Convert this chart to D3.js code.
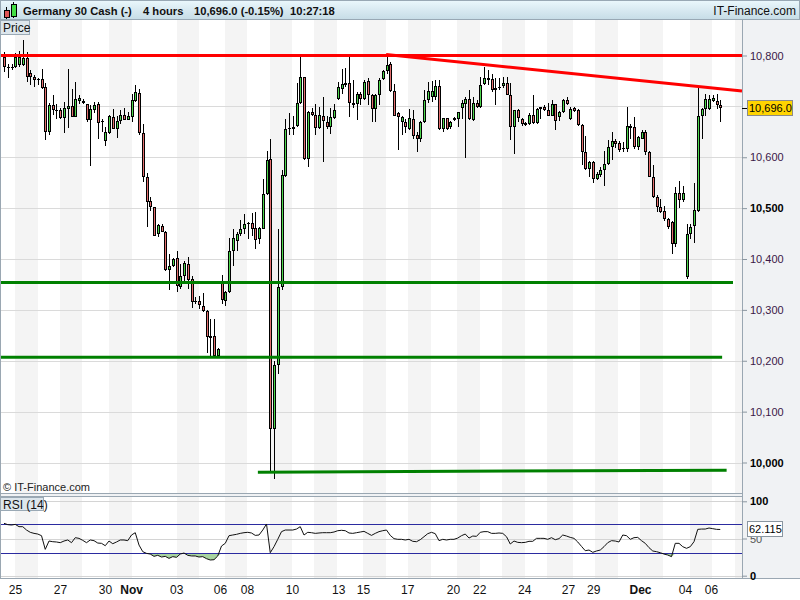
<!DOCTYPE html>
<html>
<head>
<meta charset="utf-8">
<script src="https://cdn.jsdelivr.net/npm/d3@7"></script>
<style>
body { margin: 0; background: #fff; }
svg { display: block; font-family: Arial, "Liberation Sans", sans-serif; }
</style>
</head>
<body>
<div id="chart"></div>
<script>
// 4 hour candles, index 0 = first bar on the left
const opens = [10797,10778,10775,10778,10781,10781,10796,10766,10758,10753,
  10753,10738,10650,10703,10693,10692,10677,10694,10701,10680,
  10711,10711,10705,10674,10692,10705,10671,10632,10648,10679,
  10655,10671,10684,10674,10679,10711,10727,10648,10561,10514,
  10502,10449,10464,10454,10379,10386,10401,10344,10367,10391,
  10361,10318,10318,10308,10298,10248,10248,10209,10354,10318,
  10336,10415,10436,10449,10458,10469,10470,10460,10439,10459,
  10528,10596,10065,10191,10344,10564,10655,10655,10661,10707,
  10758,10596,10689,10684,10657,10682,10669,10659,10678,10715,
  10735,10745,10745,10707,10705,10725,10714,10750,10723,10694,
  10722,10753,10769,10784,10731,10686,10669,10669,10656,10676,
  10643,10636,10669,10712,10719,10719,10740,10656,10677,10659,
  10674,10676,10697,10705,10715,10674,10707,10699,10744,10755,
  10753,10732,10736,10741,10745,10723,10659,10692,10676,10668,
  10666,10684,10667,10694,10699,10692,10682,10705,10679,10688,
  10713,10676,10697,10692,10664,10611,10576,10590,10558,10565,
  10574,10586,10620,10632,10628,10618,10617,10661,10659,10621,
  10636,10650,10611,10562,10521,10502,10494,10479,10473,10429,
  10530,10515,10364,10449,10465,10495,10681,10694,10695,10710,
  10710,10703];
const highs = [10807,10784,10784,10805,10808,10830,10807,10771,10761,10756,
  10773,10745,10707,10723,10705,10696,10709,10774,10735,10748,
  10723,10715,10705,10702,10709,10709,10676,10659,10684,10694,
  10682,10692,10697,10689,10725,10742,10735,10666,10569,10522,
  10502,10469,10469,10456,10410,10402,10416,10390,10397,10403,
  10367,10326,10328,10333,10300,10282,10282,10226,10368,10338,
  10441,10459,10453,10476,10489,10472,10490,10492,10462,10557,
  10613,10636,10200,10459,10574,10676,10686,10682,10745,10801,
  10758,10690,10696,10705,10699,10718,10681,10696,10705,10747,
  10774,10776,10797,10751,10728,10728,10751,10755,10725,10725,
  10755,10771,10797,10788,10743,10689,10682,10676,10694,10692,
  10650,10671,10732,10748,10749,10751,10751,10677,10678,10672,
  10679,10689,10712,10718,10732,10718,10712,10758,10778,10771,
  10764,10755,10755,10758,10758,10745,10692,10694,10677,10669,
  10686,10723,10697,10699,10702,10707,10712,10705,10690,10714,
  10718,10699,10699,10695,10666,10642,10592,10592,10571,10581,
  10613,10633,10650,10636,10631,10630,10699,10666,10679,10642,
  10653,10653,10613,10585,10525,10517,10505,10480,10475,10541,
  10554,10544,10469,10469,10550,10738,10697,10725,10722,10722,
  10725,10713];
const lows = [10768,10755,10771,10776,10778,10779,10748,10742,10738,10742,
  10735,10633,10643,10684,10676,10676,10648,10657,10679,10679,
  10705,10705,10669,10582,10686,10636,10650,10623,10646,10655,
  10638,10666,10673,10673,10669,10709,10643,10551,10462,10495,
  10445,10443,10453,10377,10340,10384,10336,10342,10351,10341,
  10303,10311,10301,10295,10216,10210,10205,10206,10311,10308,
  10334,10387,10416,10446,10449,10439,10446,10420,10430,10458,
  10525,9983,9967,10173,10340,10561,10643,10643,10659,10705,
  10594,10580,10682,10643,10656,10590,10656,10646,10676,10712,
  10725,10738,10680,10697,10673,10703,10712,10703,10669,10669,
  10702,10751,10764,10728,10681,10615,10643,10648,10653,10636,
  10610,10630,10668,10707,10709,10712,10653,10650,10653,10656,
  10672,10659,10676,10599,10673,10672,10696,10696,10742,10742,
  10728,10703,10732,10736,10722,10633,10607,10669,10661,10661,
  10664,10666,10666,10676,10690,10681,10681,10653,10671,10686,
  10703,10674,10688,10661,10584,10574,10561,10550,10556,10561,
  10544,10585,10594,10618,10610,10611,10610,10636,10617,10615,
  10635,10604,10561,10519,10492,10490,10475,10459,10410,10423,
  10500,10512,10360,10439,10431,10492,10636,10681,10692,10709,
  10695,10669];
const closes = [10778,10775,10778,10797,10797,10796,10757,10758,10751,10751,
  10737,10650,10703,10692,10692,10678,10696,10701,10680,10715,
  10716,10707,10674,10694,10703,10667,10671,10650,10681,10655,
  10671,10684,10674,10681,10713,10728,10648,10561,10513,10502,
  10446,10466,10454,10379,10386,10400,10346,10367,10393,10359,
  10315,10315,10309,10298,10247,10245,10209,10224,10320,10336,
  10415,10441,10449,10459,10469,10470,10459,10438,10460,10528,
  10595,10065,10191,10344,10565,10656,10657,10659,10707,10758,
  10596,10688,10684,10657,10684,10671,10659,10679,10692,10738,
  10743,10742,10707,10702,10725,10714,10748,10722,10694,10723,
  10751,10769,10782,10730,10682,10679,10679,10659,10677,10642,
  10636,10669,10712,10730,10730,10740,10655,10677,10656,10669,
  10678,10688,10707,10715,10676,10707,10699,10742,10755,10751,
  10732,10736,10738,10746,10723,10659,10692,10677,10666,10663,
  10684,10667,10695,10699,10692,10682,10705,10671,10689,10712,
  10705,10695,10690,10663,10611,10576,10590,10558,10567,10575,
  10587,10621,10632,10627,10615,10617,10661,10657,10621,10640,
  10650,10611,10562,10521,10502,10492,10479,10462,10429,10530,
  10515,10530,10449,10462,10496,10681,10695,10714,10715,10717,
  10702,10696];
const rsi = [70.4,68.6,68.1,69.0,65.9,65.9,61.4,58.3,56.9,56.0,
  53.8,35.4,46.6,45.7,45.3,44.4,46.6,48.0,44.4,51.1,
  50.2,47.5,44.4,48.0,47.1,43.9,43.5,40.3,46.6,43.0,
  45.3,48.0,48.0,47.1,54.7,57.8,41.2,32.3,30.0,29.1,
  26.0,27.4,25.1,26.0,23.3,25.6,24.7,29.1,30.5,27.4,
  26.5,26.5,25.1,25.6,22.9,21.1,21.5,26.5,39.9,43.5,
  53.8,54.7,55.6,56.9,57.8,58.3,57.4,54.2,54.7,61.4,
  69.5,30.9,39.0,48.9,59.2,61.4,61.4,61.4,62.7,65.9,
  54.7,58.3,57.8,56.9,57.4,57.8,57.8,57.8,58.7,60.5,
  61.0,60.5,57.4,56.9,57.8,58.7,59.6,56.9,54.2,56.9,
  59.2,60.5,61.4,54.2,49.8,48.9,48.9,48.0,48.9,46.2,
  45.7,48.4,52.4,56.5,58.3,56.5,47.1,48.9,48.0,48.9,
  48.9,50.6,53.8,56.0,50.6,53.3,52.9,58.3,59.2,59.2,
  56.9,56.9,57.4,56.9,52.4,42.6,46.6,44.8,44.4,44.8,
  46.2,46.2,50.2,50.2,50.2,48.9,51.1,48.4,49.8,54.7,
  53.3,51.5,50.2,45.3,39.4,33.6,34.5,31.4,33.2,34.5,
  39.0,44.4,47.1,46.6,45.3,54.7,53.8,48.9,51.1,51.5,
  47.1,43.5,37.7,33.2,32.3,30.9,29.1,27.8,25.6,43.5,
  43.5,39.0,36.8,39.0,45.7,62.3,62.7,62.7,64.1,63.2,
  62.3,62.115];

const priceGrid = [10000,10100,10200,10300,10400,10500,10600,10700,10800];
// 10,700 has no label: the last-price tag sits there
const priceLabels = [10000,10100,10200,10300,10400,10500,10600,10800];
const boldPriceTicks = [10000,10500];
const rsiTicks = [0,50,100];
const dayLabels = ["25","27","30","Nov","03","06","08","10","13","15","17","20","22","24","27","29","Dec","04","06"];
const dayTickIdx = [2.9,14.9,26.9,33.9,45.9,57.6,64.8,76.8,89.1,95.7,107.5,119.7,126.7,138.7,150.4,157.1,169.6,181.6,188.5];
const shadedDays = [[2.9,9],[14.9,20.9],[28.1,34.1],[46,52],[58.9,64.9],[70.9,76.9],[82.7,88.7],[95.8,101.8],
  [107.8,113.9],[120.9,126.8],[132.9,138.8],[144.9,151.7],[157.6,163.7],[169.6,175.7],[182.8,188.7],[194.8,198]];
// drawn trend lines: [index, price] pairs
const redLines = [[[-1.1,10800],[196.8,10800]], [[101.9,10802],[196.8,10730]]];
const greenLines = [[[-1.1,10354],[194.4,10354]], [[-1.1,10207],[191.5,10207]], [[67.7,9981],[192.7,9985]]];
const lastPrice = 10696.0;
const lastRsi = 62.115;

const W = 800, H = 600;
const plotR = 742;
const pTop = 20, pBot = 493, rTop = 496, rBot = 578;

const svg = d3.select("#chart").append("svg")
    .attr("width", W)
    .attr("height", H);

const x = d3.scaleLinear().domain([0, 191]).range([4, 720.25]);
const y = d3.scaleLinear().domain([10000, 10800]).range([462.5, 55.5]);
const yR = d3.scaleLinear().domain([0, 100]).range([575.7, 501.3]);

// backgrounds
svg.append("rect").attr("width", W).attr("height", H).attr("fill", "#fff");
svg.append("rect").attr("x", plotR).attr("y", pTop).attr("width", W - plotR).attr("height", rBot - pTop).attr("fill", "#f0f2f4");
svg.append("rect").attr("x", 0).attr("y", pBot).attr("width", plotR).attr("height", rTop - pBot).attr("fill", "#f0f2f4");

// day shading in both panels
const bands = svg.append("g").attr("shape-rendering", "crispEdges");
[[pTop, pBot], [rTop, rBot]].forEach(([t, b]) => {
    bands.selectAll(null)
        .data(shadedDays)
        .join("rect")
        .attr("x", d => Math.round(x(d[0])))
        .attr("y", t)
        .attr("width", d => Math.round(Math.min(x(d[1]), plotR)) - Math.round(x(d[0])))
        .attr("height", b - t)
        .attr("fill", "#f4f4f4");
});

// price grid
svg.append("g").attr("shape-rendering", "crispEdges")
    .selectAll("line")
    .data(priceGrid)
    .join("line")
    .attr("x1", 0).attr("x2", plotR)
    .attr("y1", d => Math.round(y(d)) + 0.5)
    .attr("y2", d => Math.round(y(d)) + 0.5)
    .attr("stroke", "#dadada");

// candles
const candles = closes.map((c, i) => ({ i, o: opens[i], h: highs[i], l: lows[i], c }));
const cg = svg.append("g").attr("shape-rendering", "crispEdges");
cg.selectAll("line")
    .data(candles)
    .join("line")
    .attr("x1", d => Math.round(x(d.i)) + 0.5)
    .attr("x2", d => Math.round(x(d.i)) + 0.5)
    .attr("y1", d => Math.round(y(d.h)))
    .attr("y2", d => Math.round(y(d.l)))
    .attr("stroke", "#000");
cg.selectAll("rect.body")
    .data(candles)
    .join("rect")
    .attr("class", "body")
    .attr("x", d => Math.round(x(d.i)) - 1)
    .attr("y", d => Math.round(y(Math.max(d.o, d.c))))
    .attr("width", 3)
    .attr("height", d => Math.max(1, Math.round(y(Math.min(d.o, d.c))) - Math.round(y(Math.max(d.o, d.c)))))
    .attr("fill", "#000");
cg.selectAll("rect.fill")
    .data(candles.filter(d => Math.round(y(Math.min(d.o, d.c))) - Math.round(y(Math.max(d.o, d.c))) > 2))
    .join("rect")
    .attr("class", "fill")
    .attr("x", d => Math.round(x(d.i)))
    .attr("y", d => Math.round(y(Math.max(d.o, d.c))) + 1)
    .attr("width", 1)
    .attr("height", d => Math.round(y(Math.min(d.o, d.c))) - Math.round(y(Math.max(d.o, d.c))) - 2)
    .attr("fill", d => d.c >= d.o ? "#4cd64c" : "#e46f6f");

// trend lines
const tl = d3.line().x(d => x(d[0])).y(d => y(d[1]));
svg.append("g").selectAll("path")
    .data(redLines)
    .join("path")
    .attr("d", tl)
    .attr("stroke", "#ff0000")
    .attr("stroke-width", 3)
    .attr("fill", "none");
svg.append("g").selectAll("path")
    .data(greenLines)
    .join("path")
    .attr("d", tl)
    .attr("stroke", "#008000")
    .attr("stroke-width", 3)
    .attr("fill", "none");

// RSI panel
const rg = svg.append("g");
rg.append("g").attr("shape-rendering", "crispEdges")
    .selectAll("line")
    .data(rsiTicks)
    .join("line")
    .attr("x1", 0).attr("x2", plotR)
    .attr("y1", d => Math.round(yR(d)) + 0.5)
    .attr("y2", d => Math.round(yR(d)) + 0.5)
    .attr("stroke", "#d4d4d4");
const idx = rsi.map((v, i) => i);
rg.append("path")
    .datum(idx)
    .attr("d", d3.area().x(i => x(i)).y0(yR(30)).y1(i => yR(Math.min(rsi[i], 30))))
    .attr("fill", "#a8d4a0");
rg.append("path")
    .datum(idx)
    .attr("d", d3.area().x(i => x(i)).y0(yR(70)).y1(i => yR(Math.max(rsi[i], 70))))
    .attr("fill", "#f0b0b0");
rg.append("g").attr("shape-rendering", "crispEdges")
    .selectAll("line")
    .data([30, 70])
    .join("line")
    .attr("x1", 0).attr("x2", plotR)
    .attr("y1", d => Math.round(yR(d)) + 0.5)
    .attr("y2", d => Math.round(yR(d)) + 0.5)
    .attr("stroke", "#2b2ba0");
rg.append("path")
    .datum(idx)
    .attr("d", d3.line().x(i => x(i)).y(i => yR(rsi[i])))
    .attr("fill", "none")
    .attr("stroke", "#111")
    .attr("stroke-width", 1);

// panel borders
const borders = svg.append("g").attr("shape-rendering", "crispEdges").attr("fill", "none").attr("stroke", "#9aa7b2");
borders.append("line").attr("x1", plotR + 0.5).attr("x2", plotR + 0.5).attr("y1", pTop).attr("y2", rBot);
borders.append("line").attr("x1", 0.5).attr("x2", 0.5).attr("y1", pTop).attr("y2", rBot);
borders.append("line").attr("x1", 0).attr("x2", plotR).attr("y1", pBot + 0.5).attr("y2", pBot + 0.5);
borders.append("line").attr("x1", 0).attr("x2", plotR).attr("y1", rTop + 0.5).attr("y2", rTop + 0.5);
borders.append("line").attr("x1", 0).attr("x2", W).attr("y1", rBot + 0.5).attr("y2", rBot + 0.5);

// price axis
const pAxis = svg.append("g")
    .attr("transform", `translate(${plotR},0)`)
    .call(d3.axisRight(y).tickValues(priceLabels).tickFormat(d3.format(",")).tickSize(5).tickPadding(3));
pAxis.select(".domain").remove();
pAxis.selectAll("line").attr("stroke", "#8a96a0");
pAxis.selectAll("text")
    .attr("font-size", 11)
    .attr("fill", d => boldPriceTicks.includes(d) ? "#000" : "#3a1848")
    .attr("font-weight", d => boldPriceTicks.includes(d) ? "bold" : "normal");

// RSI axis (the 50 label sits partly behind the RSI value tag, as in the source)
const rAxis = svg.append("g")
    .attr("transform", `translate(${plotR},0)`)
    .call(d3.axisRight(yR).tickValues(rsiTicks).tickSize(5).tickPadding(3));
rAxis.select(".domain").remove();
rAxis.selectAll("line").attr("stroke", "#8a96a0");
rAxis.selectAll("text")
    .attr("font-size", 11)
    .attr("fill", d => d === 50 ? "#555" : "#000")
    .attr("font-weight", d => d === 50 ? "normal" : "bold");

// date axis
const xAxis = svg.append("g")
    .attr("transform", `translate(0,${rBot})`)
    .call(d3.axisBottom(x).tickValues(dayTickIdx).tickFormat((d, i) => dayLabels[i]).tickSize(0).tickPadding(7));
xAxis.select(".domain").remove();
xAxis.selectAll("text")
    .attr("font-size", 12)
    .attr("fill", "#111")
    .attr("font-weight", (d, i) => (dayLabels[i] === "Nov" || dayLabels[i] === "Dec") ? "bold" : "normal");

// last price tag
const py = y(lastPrice);
svg.append("line").attr("x1", plotR).attr("x2", plotR + 5).attr("y1", Math.round(py) + 0.5).attr("y2", Math.round(py) + 0.5)
    .attr("stroke", "#000").attr("shape-rendering", "crispEdges");
svg.append("rect").attr("x", 747.5).attr("y", Math.round(py) - 7.5).attr("width", 45).attr("height", 15)
    .attr("fill", "#ffd400").attr("stroke", "#8a8a8a");
svg.append("text").attr("x", 749).attr("y", Math.round(py) + 4).attr("font-size", 11).attr("fill", "#000")
    .text(d3.format(",.1f")(lastPrice));

// last RSI tag
const ry = yR(lastRsi);
svg.append("rect").attr("x", 747.5).attr("y", Math.round(ry) - 7.5).attr("width", 35).attr("height", 15)
    .attr("fill", "#fff").attr("stroke", "#8a96a0");
svg.append("text").attr("x", 749).attr("y", Math.round(ry) + 4).attr("font-size", 11).attr("fill", "#000")
    .text(d3.format(".3f")(lastRsi));

// header
const grad = svg.append("defs").append("linearGradient").attr("id", "hdr").attr("x1", 0).attr("x2", 0).attr("y1", 0).attr("y2", 1);
grad.append("stop").attr("offset", "0%").attr("stop-color", "#eaf7fc");
grad.append("stop").attr("offset", "100%").attr("stop-color", "#c6dce6");
svg.append("rect").attr("x", 0.5).attr("y", 0.5).attr("width", W - 1).attr("height", 19).attr("fill", "url(#hdr)").attr("stroke", "#98a8b4");
const icon = svg.append("g").attr("shape-rendering", "crispEdges");
icon.append("line").attr("x1", 6.5).attr("x2", 6.5).attr("y1", 7).attr("y2", 19).attr("stroke", "#000");
icon.append("rect").attr("x", 4).attr("y", 10).attr("width", 5).attr("height", 7).attr("fill", "#e05555").attr("stroke", "#000");
icon.append("line").attr("x1", 13.5).attr("x2", 13.5).attr("y1", 2).attr("y2", 18).attr("stroke", "#000");
icon.append("rect").attr("x", 11).attr("y", 4).attr("width", 5).attr("height", 12).attr("fill", "#44dd44").attr("stroke", "#000");
const hdr = [["Germany 30 Cash (-)", 23], ["4 hours", 143], ["10,696.0 (-0.15%)", 194], ["10:27:18", 290]];
svg.append("g").selectAll("text")
    .data(hdr)
    .join("text")
    .attr("x", d => d[1]).attr("y", 15)
    .attr("font-size", 11.2).attr("font-weight", "bold").attr("fill", "#111")
    .text(d => d[0]);
svg.append("text").attr("x", 796).attr("y", 15).attr("text-anchor", "end")
    .attr("font-size", 12).attr("fill", "#111").text("IT-Finance.com");

// panel labels
svg.append("rect").attr("x", 0.5).attr("y", 20.5).attr("width", 29).attr("height", 14)
    .attr("fill", "#dde6ec").attr("stroke", "#9aa9b5");
svg.append("text").attr("x", 3).attr("y", 31.5).attr("font-size", 12).attr("fill", "#111").text("Price");
svg.append("rect").attr("x", 0.5).attr("y", 497.5).attr("width", 43).attr("height", 13)
    .attr("fill", "#dde6ec").attr("stroke", "#9aa9b5");
svg.append("text").attr("x", 3).attr("y", 508.5).attr("font-size", 12).attr("fill", "#111").text("RSI (14)");
svg.append("text").attr("x", 3).attr("y", 491).attr("font-size", 11).attr("fill", "#222").text("© IT-Finance.com");
</script>
</body>
</html>
